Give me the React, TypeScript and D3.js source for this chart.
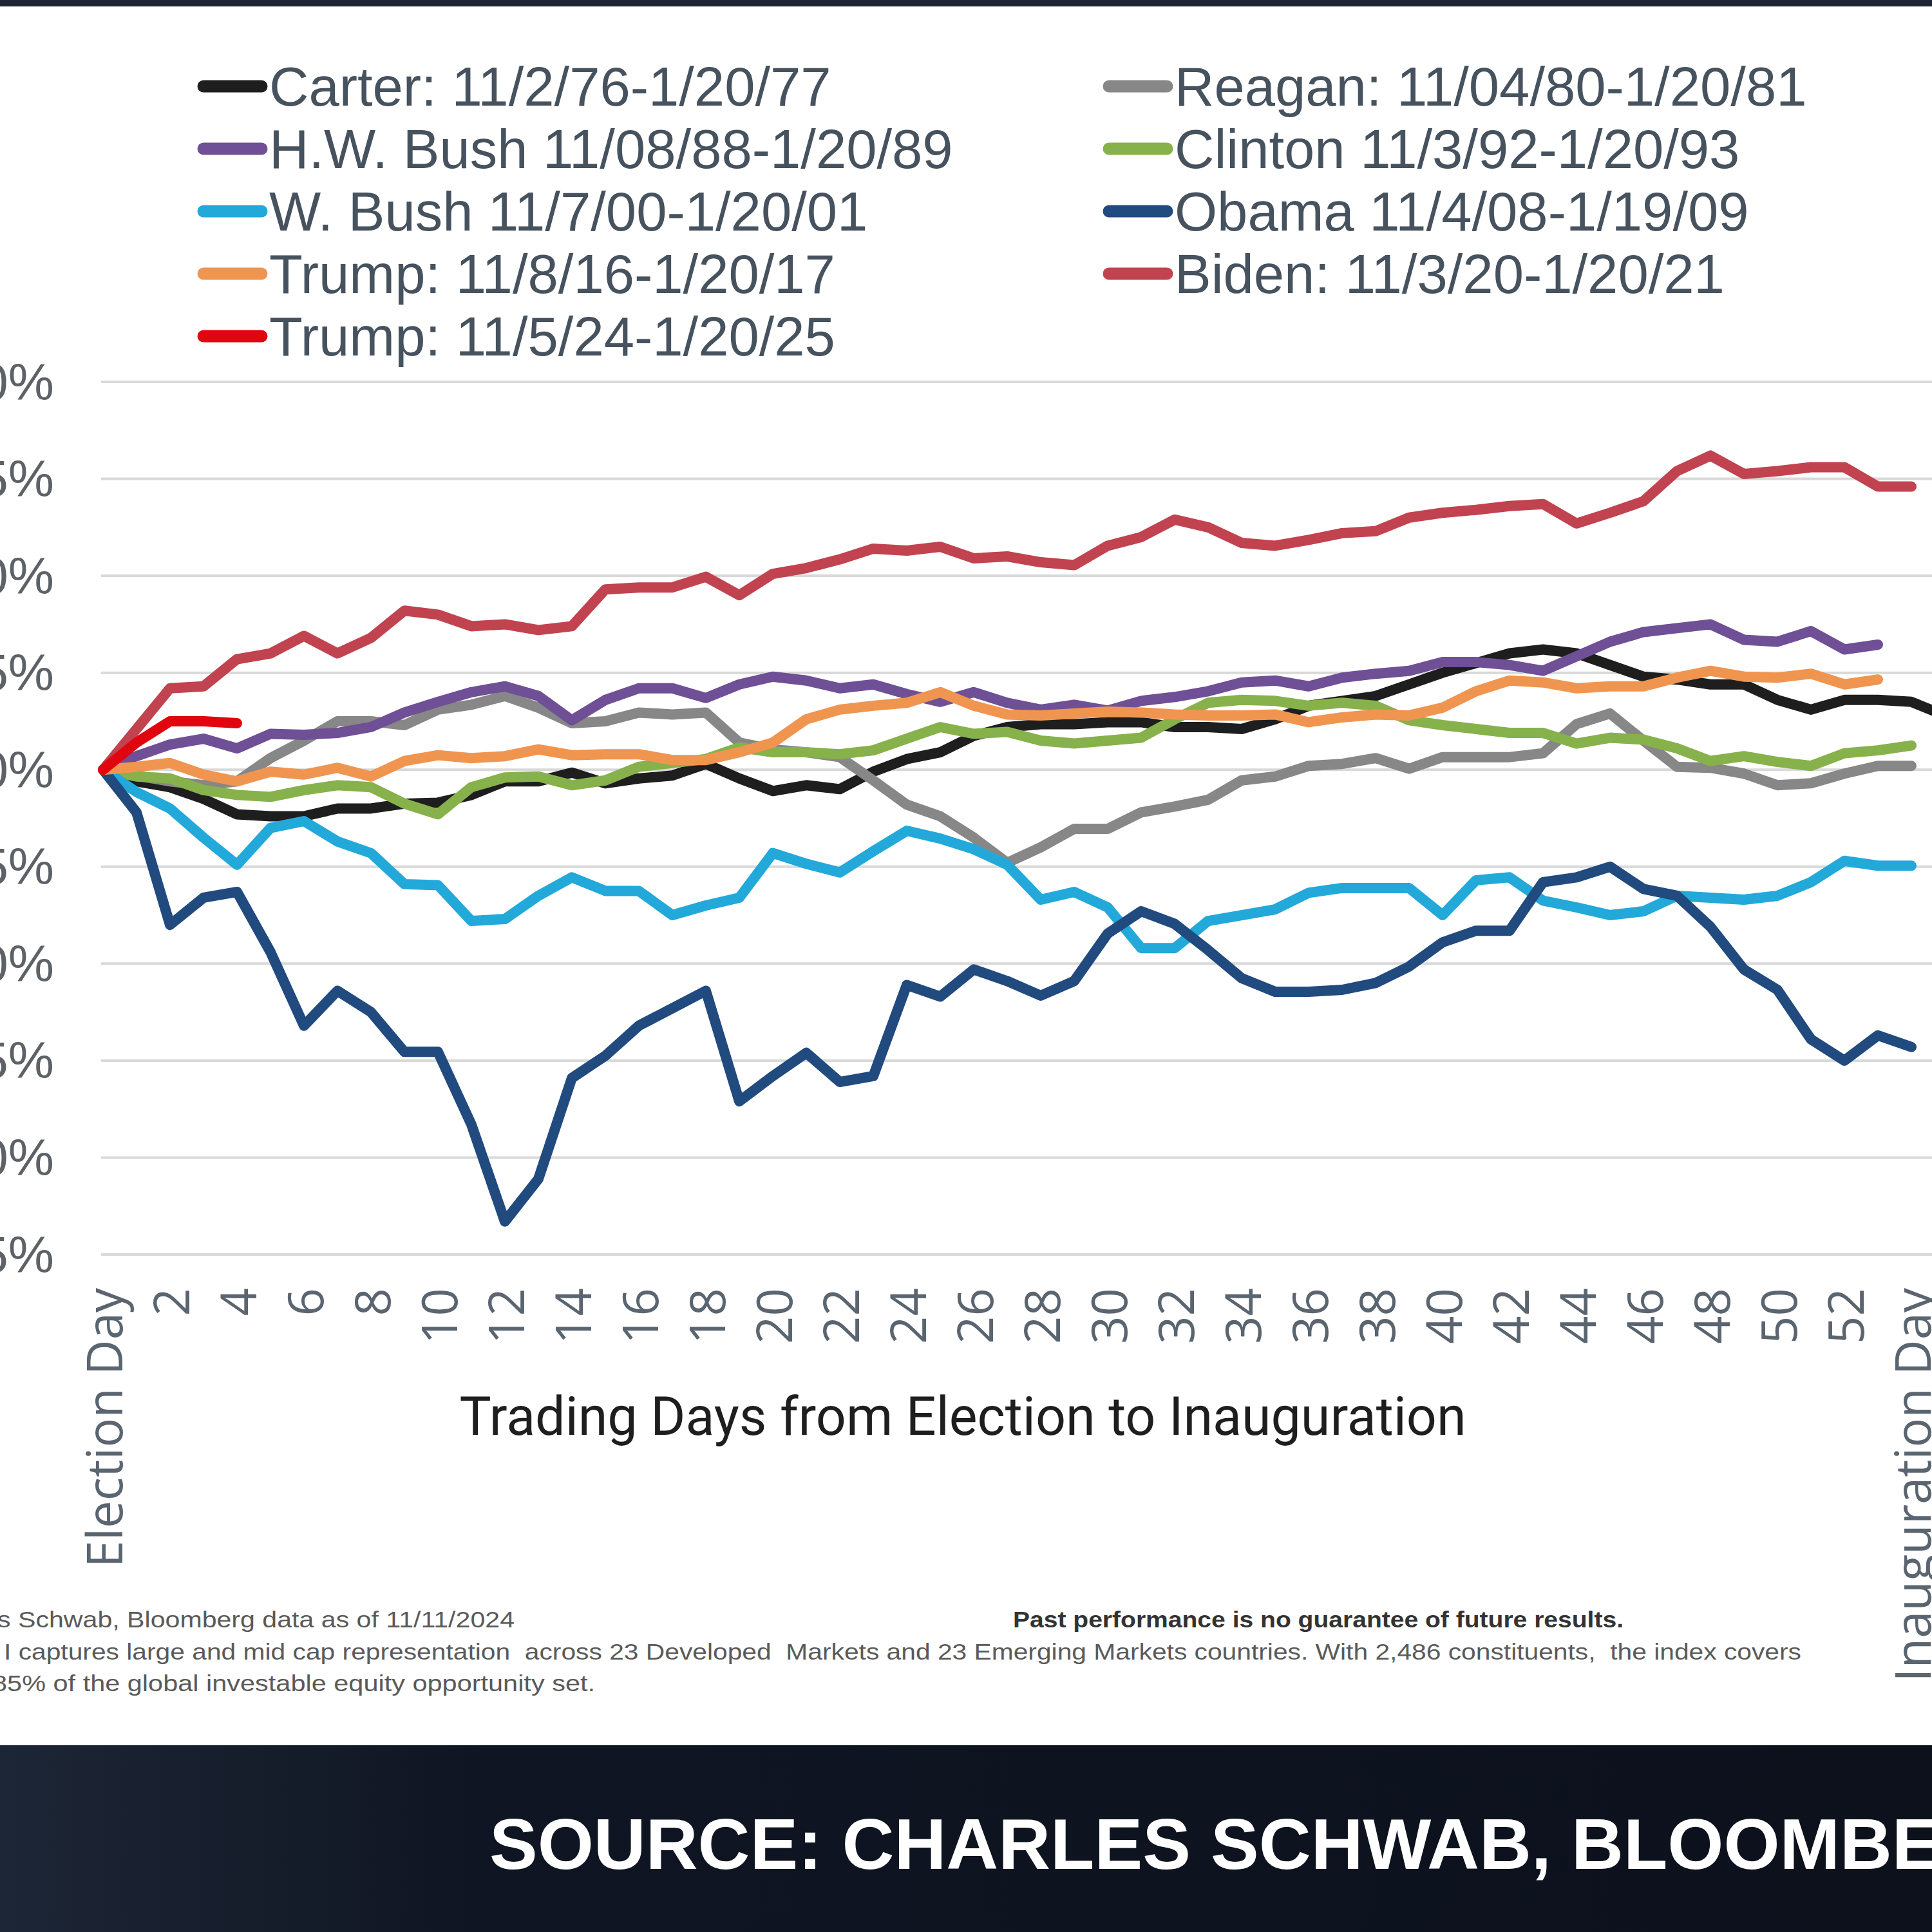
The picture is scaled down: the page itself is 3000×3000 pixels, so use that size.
import React from 'react';
import * as d3 from 'd3';

// ---- data (cumulative % change from Election Day, by trading day) ----
const carter = [0, -0.6, -0.9, -1.5, -2.3, -2.4, -2.4, -2.0, -2.0, -1.75, -1.7, -1.3, -0.6, -0.6, -0.15, -0.7, -0.45, -0.3, 0.3, -0.45, -1.1, -0.8, -1.0, -0.1, 0.55, 0.9, 1.75, 2.2, 2.35, 2.35, 2.45, 2.45, 2.2, 2.2, 2.1, 2.6, 3.3, 3.55, 3.8, 4.4, 5.0, 5.5, 6.0, 6.2, 6.0, 5.4, 4.8, 4.65, 4.4, 4.4, 3.6, 3.1, 3.6, 3.6, 3.5, 2.8];
const reagan = [0, -0.3, -0.6, -0.8, -0.6, 0.6, 1.5, 2.5, 2.5, 2.3, 3.1, 3.35, 3.8, 3.2, 2.4, 2.5, 2.95, 2.85, 2.95, 1.4, 1.05, 0.9, 0.65, -0.55, -1.8, -2.4, -3.5, -4.8, -4.0, -3.05, -3.05, -2.2, -1.9, -1.55, -0.55, -0.35, 0.2, 0.3, 0.6, 0.05, 0.65, 0.65, 0.65, 0.85, 2.35, 2.9, 1.5, 0.15, 0.1, -0.2, -0.8, -0.7, -0.2, 0.2, 0.2];
const hwBush = [0, 0.7, 1.3, 1.6, 1.1, 1.85, 1.8, 1.9, 2.2, 2.95, 3.5, 4.0, 4.3, 3.8, 2.55, 3.6, 4.2, 4.2, 3.7, 4.4, 4.8, 4.6, 4.2, 4.4, 3.9, 3.5, 4.0, 3.45, 3.1, 3.35, 3.05, 3.55, 3.75, 4.05, 4.5, 4.6, 4.3, 4.75, 4.95, 5.1, 5.55, 5.55, 5.4, 5.1, 5.85, 6.6, 7.1, 7.3, 7.5, 6.7, 6.6, 7.15, 6.2, 6.45];
const clinton = [0, -0.35, -0.45, -1.05, -1.3, -1.4, -1.05, -0.8, -0.9, -1.75, -2.3, -0.9, -0.4, -0.35, -0.8, -0.55, 0.15, 0.35, 0.55, 1.15, 0.9, 0.9, 0.8, 1.0, 1.6, 2.2, 1.85, 1.95, 1.5, 1.35, 1.5, 1.65, 2.6, 3.45, 3.6, 3.55, 3.3, 3.45, 3.3, 2.55, 2.3, 2.1, 1.9, 1.9, 1.35, 1.65, 1.55, 1.1, 0.45, 0.7, 0.4, 0.2, 0.85, 1.0, 1.25];
const wBush = [0, -1.15, -2.0, -3.5, -4.9, -3.0, -2.65, -3.7, -4.3, -5.9, -5.95, -7.8, -7.7, -6.5, -5.55, -6.25, -6.25, -7.5, -7.0, -6.6, -4.3, -4.85, -5.3, -4.2, -3.15, -3.55, -4.1, -4.9, -6.7, -6.3, -7.1, -9.2, -9.2, -7.8, -7.5, -7.2, -6.35, -6.1, -6.1, -6.1, -7.5, -5.7, -5.55, -6.75, -7.1, -7.5, -7.3, -6.5, -6.6, -6.7, -6.5, -5.8, -4.7, -4.95, -4.95];
const obama = [0, -2.2, -8.0, -6.6, -6.3, -9.4, -13.2, -11.4, -12.5, -14.55, -14.55, -18.3, -23.3, -21.1, -15.9, -14.75, -13.2, -12.3, -11.4, -17.1, -15.8, -14.6, -16.1, -15.8, -11.1, -11.7, -10.3, -10.9, -11.65, -10.9, -8.45, -7.3, -7.95, -9.3, -10.75, -11.45, -11.45, -11.35, -11.0, -10.15, -8.9, -8.3, -8.3, -5.8, -5.55, -5.0, -6.15, -6.5, -8.1, -10.3, -11.35, -13.9, -15.0, -13.7, -14.3];
const trump16 = [0, 0.15, 0.35, -0.25, -0.6, -0.1, -0.25, 0.1, -0.35, 0.45, 0.75, 0.6, 0.7, 1.05, 0.75, 0.8, 0.8, 0.5, 0.5, 0.9, 1.4, 2.6, 3.1, 3.3, 3.45, 4.0, 3.3, 2.85, 2.8, 2.9, 3.0, 2.95, 2.85, 2.8, 2.8, 2.85, 2.45, 2.7, 2.85, 2.8, 3.2, 4.05, 4.6, 4.5, 4.2, 4.3, 4.3, 4.75, 5.1, 4.8, 4.75, 4.95, 4.4, 4.65];
const biden = [0, 2.1, 4.2, 4.3, 5.7, 6.0, 6.9, 6.0, 6.8, 8.2, 8.0, 7.4, 7.5, 7.2, 7.4, 9.3, 9.4, 9.4, 9.95, 9.0, 10.1, 10.4, 10.85, 11.4, 11.3, 11.5, 10.9, 11.0, 10.7, 10.55, 11.55, 12.0, 12.9, 12.5, 11.7, 11.55, 11.85, 12.2, 12.3, 13.0, 13.25, 13.4, 13.6, 13.7, 12.7, 13.25, 13.85, 15.4, 16.2, 15.25, 15.4, 15.6, 15.6, 14.6, 14.6];
const trump24 = [0, 1.4, 2.5, 2.5, 2.4];

const seriesNames = [
  'Carter: 11/2/76-1/20/77',
  'Reagan: 11/04/80-1/20/81',
  'H.W. Bush 11/08/88-1/20/89',
  'Clinton 11/3/92-1/20/93',
  'W. Bush 11/7/00-1/20/01',
  'Obama 11/4/08-1/19/09',
  'Trump: 11/8/16-1/20/17',
  'Biden: 11/3/20-1/20/21',
  'Trump: 11/5/24-1/20/25',
];
const seriesValues = [carter, reagan, hwBush, clinton, wBush, obama, trump16, biden, trump24];
const seriesColors = ['#1e1e1e', '#878787', '#6f4f95', '#87b14b', '#22a9da', '#214a7f', '#f09550', '#c1434f', '#e0050f'];

const yTicks = [20, 15, 10, 5, 0, -5, -10, -15, -20, -25];
const xTickDays = d3.range(0, 55, 2);
const xTickLabel = (d: number) => (d === 0 ? 'Election Day' : d === 54 ? 'Inauguration Day' : String(d));

const axisTitle = 'Trading Days from Election to Inauguration';
const footLine1 = 's Schwab, Bloomberg data as of 11/11/2024';
const footBold = 'Past performance is no guarantee of future results.';
const footLine2 = 'I captures large and mid cap representation  across 23 Developed  Markets and 23 Emerging Markets countries. With 2,486 constituents,  the index covers';
const footLine3 = '85% of the global investable equity opportunity set.';
const bannerText = 'SOURCE: CHARLES SCHWAB, BLOOMBERG';

export default function App() {
  const W = 3000;
  const H = 3000;
  const x = d3.scaleLinear().domain([0, 54]).range([160, 2968]);
  const y = d3.scaleLinear().domain([-25, 20]).range([1948, 593]);
  const line = d3
    .line<number>()
    .x((_, i) => x(i))
    .y((v) => y(v));

  const legendPos = seriesNames.map((_, i) => ({
    col: i % 2,
    row: Math.floor(i / 2),
  }));
  const colX = [306, 1712];
  const rowY = (r: number) => 134 + 97 * r;

  return (
    <svg
      width={W}
      height={H}
      viewBox={`0 0 ${W} ${H}`}
      style={{ position: 'absolute', left: 0, top: 0, background: '#fff' }}
    >
      <defs>
        <linearGradient id="banner" x1="0" x2="1" y1="0" y2="0">
          <stop offset="0" stopColor="#1d2636" />
          <stop offset="0.25" stopColor="#0f1522" />
          <stop offset="1" stopColor="#0c111c" />
        </linearGradient>
      </defs>
      <rect x={0} y={0} width={W} height={H} fill="#ffffff" />
      <rect x={0} y={0} width={W} height={10} fill="#1c2534" />

      {/* legend */}
      {seriesNames.map((name, i) => {
        const { col, row } = legendPos[i];
        const cy = rowY(row);
        const x0 = colX[col];
        return (
          <g key={name}>
            <line
              x1={x0 + 10}
              x2={x0 + 100}
              y1={cy}
              y2={cy}
              stroke={seriesColors[i]}
              strokeWidth={19}
              strokeLinecap="round"
            />
            <text
              x={x0 + 112}
              y={cy + 30}
              fontFamily="'Liberation Sans', Arial, sans-serif"
              fontSize={85}
              fill="#46525e"
            >
              {name}
            </text>
          </g>
        );
      })}

      {/* gridlines */}
      {yTicks.map((t) => (
        <line key={t} x1={157} x2={W} y1={y(t)} y2={y(t)} stroke="#d9d9d9" strokeWidth={4} />
      ))}
      {/* y labels (cropped at the left edge, as in the source image) */}
      {yTicks.map((t) => (
        <text
          key={'yl' + t}
          x={84}
          y={y(t)}
          textAnchor="end"
          dominantBaseline="central"
          fontFamily="'Liberation Sans', Arial, sans-serif"
          fontSize={80}
          fill="#5c6268"
        >
          {`${t}%`}
        </text>
      ))}

      {/* x tick labels */}
      {xTickDays.map((d) => (
        <text
          key={'xl' + d}
          transform={`translate(${x(d)},2000) rotate(-90)`}
          textAnchor="end"
          dominantBaseline="central"
          fontFamily="'Open Sans', sans-serif"
          fontSize={76}
          fill="#5a6570"
        >
          {xTickLabel(d)}
        </text>
      ))}

      {/* axis title */}
      <text
        x={1495}
        y={2228}
        textAnchor="middle"
        fontFamily="Roboto, sans-serif"
        fontSize={84}
        fill="#1e1e1e"
        textLength={1563}
        lengthAdjust="spacingAndGlyphs"
      >
        {axisTitle}
      </text>

      {/* series lines */}
      {seriesValues.map((vals, i) => (
        <path
          key={seriesNames[i]}
          d={line(vals) || ''}
          fill="none"
          stroke={seriesColors[i]}
          strokeWidth={16}
          strokeLinejoin="round"
          strokeLinecap="round"
        />
      ))}

      {/* footer notes */}
      <g fontFamily="'Liberation Sans', Arial, sans-serif" fontSize={35} fill="#5a5a5a">
        <text x={-4} y={2527} textLength={803} lengthAdjust="spacingAndGlyphs">
          {footLine1}
        </text>
        <text
          x={1573}
          y={2527}
          fontWeight="bold"
          fill="#333"
          textLength={948}
          lengthAdjust="spacingAndGlyphs"
        >
          {footBold}
        </text>
        <text x={6} y={2577} textLength={2791} lengthAdjust="spacingAndGlyphs" xmlSpace="preserve">
          {footLine2}
        </text>
        <text x={-12} y={2626} textLength={936} lengthAdjust="spacingAndGlyphs">
          {footLine3}
        </text>
      </g>

      {/* bottom banner */}
      <rect x={0} y={2710} width={W} height={H - 2710} fill="url(#banner)" />
      <text
        x={760}
        y={2902}
        fontFamily="'Liberation Sans', Arial, sans-serif"
        fontWeight="bold"
        fontSize={112}
        fill="#ffffff"
      >
        {bannerText}
      </text>
    </svg>
  );
}
